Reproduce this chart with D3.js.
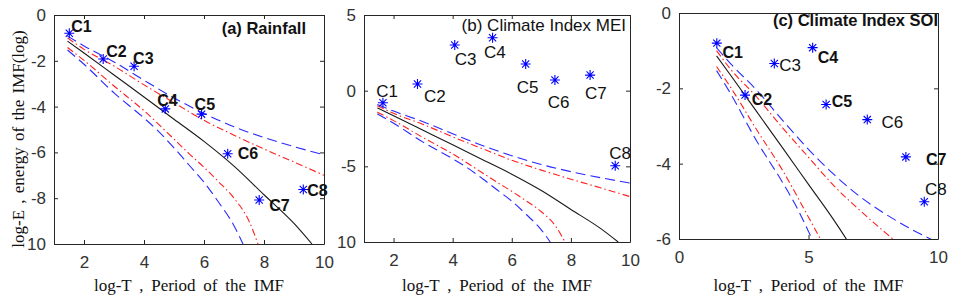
<!DOCTYPE html>
<html>
<head>
<meta charset="utf-8">
<script src="https://cdn.jsdelivr.net/npm/d3@7"></script>
<style>
body { margin: 0; background: #fff; }
svg { display: block; background: #fff; }
.tick text { font-family: "Liberation Sans", Arial, sans-serif; font-size: 17px; fill: #333; }
.domain, .tick line { stroke: #262626; }
.axlabel { font-family: "Liberation Serif", "Times New Roman", serif; font-size: 17px; fill: #111; word-spacing: 3.5px; }
.ttl { font-family: "Liberation Sans", Arial, sans-serif; fill: #111; }
.lbl { font-family: "Liberation Sans", Arial, sans-serif; fill: #111; }
</style>
</head>
<body>
<svg id="chart" width="956" height="305"></svg>
<script>
// IMF component names
var comps = ["C1", "C2", "C3", "C4", "C5", "C6", "C7", "C8"];

// (a) rainfall: log-T and log-E of each IMF
var rainT = [1.51, 2.64, 3.67, 4.71, 5.92, 6.79, 7.84, 9.31];
var rainE = [-0.80, -1.92, -2.24, -4.10, -4.33, -6.06, -8.08, -7.62];

// (b) MEI
var meiT = [1.64, 2.81, 4.07, 5.35, 6.47, 7.46, 8.65, 9.50];
var meiE = [-0.80, 0.44, 3.02, 3.50, 1.76, 0.70, 1.03, -4.96];

// (c) SOI
var soiT = [1.46, 2.55, 3.68, 5.16, 5.68, 7.27, 8.76, 9.47];
var soiE = [-0.80, -2.18, -1.34, -0.92, -2.43, -2.83, -3.82, -5.01];

// spread lines (same in all three panels)
var meanT = [1.45, 2, 3, 4, 5, 6, 7, 8, 9, 9.6];
var meanE = [-1.14, -1.66, -2.62, -3.58, -4.55, -5.52, -6.6, -7.85, -9.1, -10];

var hi99T = [1.45, 2, 3, 4, 5, 6, 7, 8, 9, 10];
var hi99E = [-0.92, -1.35, -2.05, -2.85, -3.62, -4.3, -4.88, -5.35, -5.75, -6.1];

var hi95T = [1.45, 2, 3, 4, 5, 6, 7, 8, 9, 10];
var hi95E = [-1.0, -1.5, -2.23, -3.05, -3.83, -4.6, -5.25, -5.85, -6.42, -7.0];

var lo95T = [1.45, 2, 3, 4, 5, 5.5, 6, 6.5, 7, 7.5, 7.8];
var lo95E = [-1.42, -1.98, -3.1, -4.18, -5.42, -6.05, -6.65, -7.3, -8.0, -9.0, -10];

var lo99T = [1.45, 2, 3, 4, 4.5, 5, 5.5, 6, 6.5, 7, 7.3];
var lo99E = [-1.53, -2.15, -3.4, -4.5, -5.1, -5.8, -6.55, -7.3, -8.2, -9.2, -10];

var svg = d3.select("#chart");

var curves = [
  {t: hi99T, e: hi99E, color: "#2a2aff", dash: "10,5"},
  {t: lo99T, e: lo99E, color: "#2a2aff", dash: "10,5"},
  {t: hi95T, e: hi95E, color: "#ff2020", dash: "7,3,1.5,3"},
  {t: lo95T, e: lo95E, color: "#ff2020", dash: "7,3,1.5,3"},
  {t: meanT, e: meanE, color: "#1a1a1a", dash: null}
];

function yFmt(d) {
  // bottom label lost its minus sign in the original
  return (d === -10) ? "10" : d;
}

function drawPanel(cfg) {
  var x = d3.scaleLinear().domain(cfg.xDom).range([cfg.left, cfg.right]);
  var y = d3.scaleLinear().domain(cfg.yDom).range([cfg.bottom, cfg.top]);
  var g = svg.append("g");

  var clipId = "clip" + cfg.id;
  svg.append("clipPath").attr("id", clipId)
    .append("rect")
    .attr("x", cfg.left).attr("y", cfg.top)
    .attr("width", cfg.right - cfg.left).attr("height", cfg.bottom - cfg.top);

  var line = d3.line()
    .x(function(d) { return x(d[0]); })
    .y(function(d) { return y(d[1]); })
    .curve(d3.curveMonotoneX);

  curves.forEach(function(c) {
    var pts = c.t.map(function(t, i) { return [t, c.e[i]]; });
    g.append("path")
      .attr("clip-path", "url(#" + clipId + ")")
      .attr("d", line(pts))
      .attr("fill", "none")
      .attr("stroke", c.color)
      .attr("stroke-width", 1.1)
      .attr("stroke-dasharray", c.dash);
  });

  // axes with inward ticks on all four sides
  g.append("g").attr("transform", "translate(0," + cfg.bottom + ")")
    .call(d3.axisBottom(x).tickValues(cfg.xTicks).tickSizeInner(-4).tickSizeOuter(0).tickPadding(12));
  g.append("g").attr("transform", "translate(0," + cfg.top + ")")
    .call(d3.axisTop(x).tickValues(cfg.xTicks).tickSizeInner(-4).tickSizeOuter(0).tickFormat(""));
  g.append("g").attr("transform", "translate(" + cfg.left + ",0)")
    .call(d3.axisLeft(y).tickValues(cfg.yTicks).tickSizeInner(-4).tickSizeOuter(0).tickPadding(8).tickFormat(yFmt));
  g.append("g").attr("transform", "translate(" + cfg.right + ",0)")
    .call(d3.axisRight(y).tickValues(cfg.yTicks).tickSizeInner(-4).tickSizeOuter(0).tickFormat(""));

  // the IMF points
  g.selectAll(".star").data(cfg.tv).enter().append("path")
    .attr("transform", function(d, i) { return "translate(" + x(d) + "," + y(cfg.ev[i]) + ")"; })
    .attr("d", "M-5,0H5M0,-5V5M-3.6,-3.6L3.6,3.6M-3.6,3.6L3.6,-3.6")
    .attr("stroke", "#0000ff")
    .attr("stroke-width", 1.1)
    .attr("fill", "none");

  g.selectAll(".lbl").data(comps).enter().append("text")
    .attr("class", "lbl")
    .attr("x", function(d, i) { return x(cfg.tv[i]) + cfg.off[i][0]; })
    .attr("y", function(d, i) { return y(cfg.ev[i]) + cfg.off[i][1]; })
    .style("font-weight", function(d, i) { return cfg.bold[i] ? "bold" : "normal"; })
    .style("font-size", function(d, i) { return cfg.bold[i] ? "16px" : "17px"; })
    .text(function(d) { return d; });

  g.append("text")
    .attr("class", "ttl")
    .attr("x", cfg.titleX).attr("y", cfg.titleY)
    .attr("text-anchor", "end")
    .style("font-weight", cfg.titleBold ? "bold" : "normal")
    .style("font-size", cfg.titleSize)
    .text(cfg.title);

  g.append("text")
    .attr("class", "axlabel")
    .attr("x", (cfg.left + cfg.right) / 2)
    .attr("y", 291)
    .attr("text-anchor", "middle")
    .text("log-T , Period of the IMF");
}

drawPanel({
  id: "a", left: 54, right: 324, top: 15, bottom: 244,
  xDom: [1, 10], yDom: [-10, 0],
  xTicks: [2, 4, 6, 8, 10], yTicks: [0, -2, -4, -6, -8, -10],
  tv: rainT, ev: rainE,
  off: [[2, -1], [3, -2], [-1, -2], [-8, -3], [-7, -4], [10, 5], [10, 11], [4, 7]],
  bold: [1, 1, 1, 1, 1, 1, 1, 1],
  title: "(a) Rainfall", titleX: 306, titleY: 34, titleBold: true, titleSize: "16.5px"
});

drawPanel({
  id: "b", left: 364, right: 630, top: 15, bottom: 242,
  xDom: [1, 10], yDom: [-10, 5],
  xTicks: [2, 4, 6, 8, 10], yTicks: [5, 0, -5, -10],
  tv: meiT, ev: meiE,
  off: [[-6.6, -5.4], [6.6, 17.7], [0, 20], [-8.5, 20.6], [-9, 28.7], [-7.3, 28.3], [-5, 23.7], [-6, -6.4]],
  bold: [0, 0, 0, 0, 0, 0, 0, 0],
  title: "(b) Climate Index MEI", titleX: 626, titleY: 31, titleBold: false, titleSize: "17px"
});

drawPanel({
  id: "c", left: 679, right: 938, top: 13, bottom: 239,
  xDom: [0, 10], yDom: [-6, 0],
  xTicks: [0, 5, 10], yTicks: [0, -2, -4, -6],
  tv: soiT, ev: soiE,
  off: [[5.7, 15], [6.7, 10], [5, 7.7], [5, 15.3], [5.7, 2.4], [14.3, 8], [20, 8.3], [0.7, -6.7]],
  bold: [1, 1, 0, 1, 1, 0, 1, 0],
  title: "(c) Climate Index SOI", titleX: 938, titleY: 26, titleBold: true, titleSize: "16.5px"
});

// y label only on the first panel
svg.append("text")
  .attr("class", "axlabel")
  .attr("transform", "translate(24,139) rotate(-90)")
  .attr("text-anchor", "middle")
  .style("word-spacing", "2px")
  .text("log-E , energy of the IMF(log)");
</script>
</body>
</html>
